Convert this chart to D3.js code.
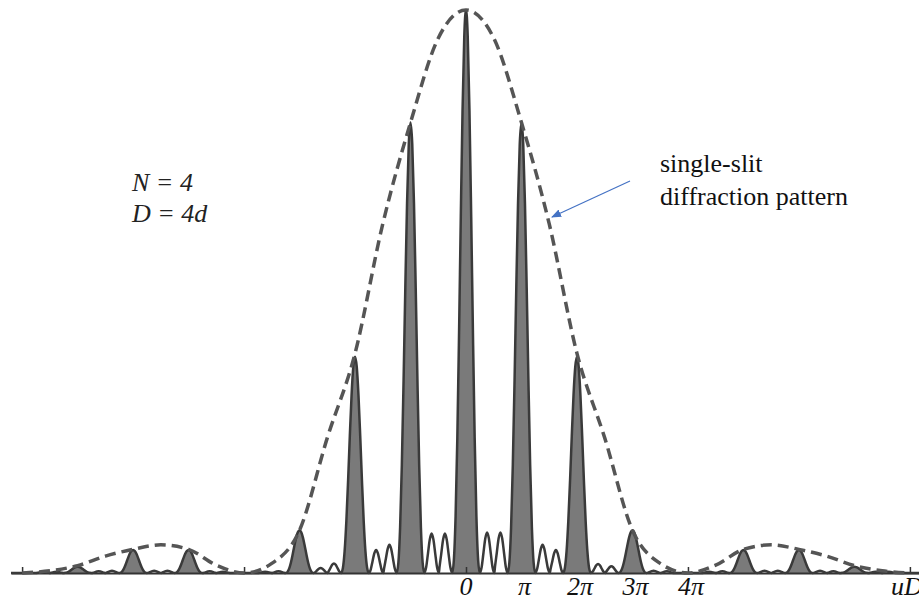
<!DOCTYPE html>
<html>
<head>
<meta charset="utf-8">
<script src="https://cdn.jsdelivr.net/npm/d3@7"></script>
<style>
  html, body { margin: 0; padding: 0; background: #fff; }
  svg { display: block; }
</style>
</head>
<body>
<svg id="chart"></svg>
<script>
// positions are in units of pi, intensities relative to the central maximum

// principal maxima (the 4pi one is missing)
const principalPos    = [-7, -6, -5, -3, -2, -1, 0, 1, 2, 3, 5, 6, 7];
const principalHeight = [0.011, 0.041, 0.041, 0.076, 0.384, 0.80, 1.0, 0.80, 0.384, 0.076, 0.041, 0.041, 0.011];

// small secondary maxima between the principal ones
const secondaryPos = [-7.62, -7.38, -6.62, -6.38, -5.62, -5.38, -4.62, -4.38, -3.62, -3.38, -2.62, -2.38,
                      -1.62, -1.38, -0.62, -0.38, 0.38, 0.62, 1.38, 1.62, 2.38, 2.62, 3.38, 3.62,
                      4.38, 4.62, 5.38, 5.62, 6.38, 6.62, 7.38, 7.62];
const secondaryHeight = [0.002, 0.002, 0.003, 0.004, 0.004, 0.004, 0.003, 0.002, 0.002, 0.003, 0.009, 0.017,
                         0.041, 0.050, 0.070, 0.070, 0.072, 0.072, 0.050, 0.041, 0.016, 0.012, 0.004, 0.003,
                         0.002, 0.003, 0.004, 0.004, 0.004, 0.003, 0.002, 0.002];

// single-slit envelope
const envelopePos   = [-8, -7.5, -7, -6.5, -6, -5.5, -5, -4.5, -4, -3.5, -3, -2.5, -2, -1.5, -1, -0.5, 0,
                       0.5, 1, 1.5, 2, 2.5, 3, 3.5, 4, 4.5, 5, 5.5, 6, 6.5, 7, 7.5, 8];
const envelopeValue = [0, 0.004, 0.013, 0.03, 0.042, 0.05, 0.042, 0.014, 0, 0.017, 0.076, 0.24, 0.39, 0.62, 0.80, 0.95, 1.0,
                       0.95, 0.80, 0.62, 0.39, 0.24, 0.076, 0.017, 0, 0.014, 0.042, 0.05, 0.042, 0.03, 0.013, 0.004, 0];

const labelPos  = [0, 1, 2, 3, 4];
const labelText = ["0", "π", "2π", "3π", "4π"];
const tickPos   = [-8, -4, 0, 4, 8];

// lobe shapes (offset from centre / fraction of height)
const peakOffsets = [0, 0.125, 0.25, 0.375, 0.5, 0.625, 0.75, 0.875, 1];
const peakFactors = [1, 0.953, 0.821, 0.633, 0.427, 0.240, 0.101, 0.023, 0];
const bumpOffsets = [0, 0.25, 0.5, 0.75, 1];
const bumpFactors = [1, 0.85, 0.5, 0.15, 0];

const FONT = "'Liberation Serif', 'DejaVu Serif', serif";

const W = 919, H = 602;
const svg = d3.select("#chart").attr("width", W).attr("height", H);

const x = d3.scaleLinear().domain([-8.2, 8.2]).range([11, 921]);
const y = d3.scaleLinear().domain([0, 1]).range([573, 10]);

function lobePoints(c, h, hw, offs, facs) {
    const pts = [];
    for (let i = offs.length - 1; i > 0; i--) pts.push([c - offs[i] * hw, h * facs[i]]);
    for (let i = 0; i < offs.length; i++) pts.push([c + offs[i] * hw, h * facs[i]]);
    return pts;
}

const lobes = [];
principalPos.forEach((c, i) => lobes.push({ c, pts: lobePoints(c, principalHeight[i], 0.25, peakOffsets, peakFactors), main: true }));
secondaryPos.forEach((c, i) => lobes.push({ c, pts: lobePoints(c, secondaryHeight[i], 0.13, bumpOffsets, bumpFactors), main: false }));
lobes.sort((a, b) => a.c - b.c);

// one continuous outline
let outline = [[-8.2, 0]];
lobes.forEach(l => l.pts.forEach(p => {
    const last = outline[outline.length - 1];
    if (p[0] - last[0] > 1e-6) outline.push(p);
}));
outline.push([8.2, 0]);

const area = d3.area()
    .x(d => x(d[0]))
    .y0(y(0))
    .y1(d => y(d[1]))
    .curve(d3.curveMonotoneX);

const line = d3.line()
    .x(d => x(d[0]))
    .y(d => y(d[1]))
    .curve(d3.curveMonotoneX);

// filled principal peaks
svg.append("g").selectAll("path")
    .data(lobes.filter(l => l.main))
    .enter().append("path")
    .attr("d", d => area(d.pts))
    .attr("fill", "#7a7a7a");

// axis line + little ticks pointing up
const axisG = svg.append("g")
    .attr("transform", `translate(0,${y(0)})`)
    .call(d3.axisTop(x).tickValues(tickPos).tickSize(6).tickSizeOuter(0).tickFormat(""));
axisG.select(".domain").attr("stroke", "#333").attr("stroke-width", 2);
axisG.selectAll(".tick line").attr("stroke", "#333").attr("stroke-width", 1.5);

// labels under the axis
const labG = svg.append("g")
    .attr("transform", `translate(0,${y(0)})`)
    .attr("font-family", FONT)
    .call(d3.axisBottom(x).tickValues(labelPos).tickSize(0).tickPadding(4).tickFormat((d, i) => labelText[i]));
labG.attr("font-family", FONT);
labG.select(".domain").remove();
labG.selectAll("text")
    .attr("font-family", FONT)
    .attr("font-style", "italic")
    .attr("font-size", 26)
    .attr("fill", "#111");
labG.selectAll(".tick").attr("transform", d => `translate(${x(d) + (d === 0 ? 0 : 3)},0)`);

svg.append("text")
    .attr("x", 891).attr("y", 595)
    .attr("font-family", FONT)
    .attr("font-style", "italic")
    .attr("font-size", 26)
    .attr("fill", "#111")
    .text("uD");

// intensity outline
svg.append("path")
    .datum(outline)
    .attr("d", line)
    .attr("fill", "none")
    .attr("stroke", "#3a3a3a")
    .attr("stroke-width", 2.5)
    .attr("stroke-linejoin", "round");

// dashed single-slit envelope
const envLine = d3.line()
    .x((d, i) => x(envelopePos[i]))
    .y(d => y(d))
    .curve(d3.curveMonotoneX);

svg.append("path")
    .datum(envelopeValue)
    .attr("d", envLine)
    .attr("fill", "none")
    .attr("stroke", "#555")
    .attr("stroke-width", 3.5)
    .attr("stroke-dasharray", "11 6");

// text labels
svg.append("text").attr("x", 132).attr("y", 191)
    .attr("font-family", FONT).attr("font-style", "italic").attr("font-size", 26).attr("fill", "#222")
    .text("N = 4");
svg.append("text").attr("x", 132).attr("y", 222)
    .attr("font-family", FONT).attr("font-style", "italic").attr("font-size", 26).attr("fill", "#222")
    .text("D = 4d");

svg.append("text").attr("x", 660).attr("y", 172)
    .attr("font-family", FONT).attr("font-size", 26).attr("fill", "#111")
    .text("single-slit");
svg.append("text").attr("x", 660).attr("y", 205)
    .attr("font-family", FONT).attr("font-size", 26).attr("fill", "#111")
    .text("diffraction pattern");

// arrow
svg.append("defs").append("marker")
    .attr("id", "arrowHead")
    .attr("viewBox", "0 0 10 10")
    .attr("refX", 9).attr("refY", 5)
    .attr("markerWidth", 10).attr("markerHeight", 10)
    .attr("markerUnits", "userSpaceOnUse")
    .attr("orient", "auto")
    .append("path")
    .attr("d", "M0,1 L10,5 L0,9 Z")
    .attr("fill", "#4472c4");

svg.append("line")
    .attr("x1", 630).attr("y1", 181)
    .attr("x2", 552).attr("y2", 217)
    .attr("stroke", "#4472c4")
    .attr("stroke-width", 1.2)
    .attr("marker-end", "url(#arrowHead)");
</script>
</body>
</html>
